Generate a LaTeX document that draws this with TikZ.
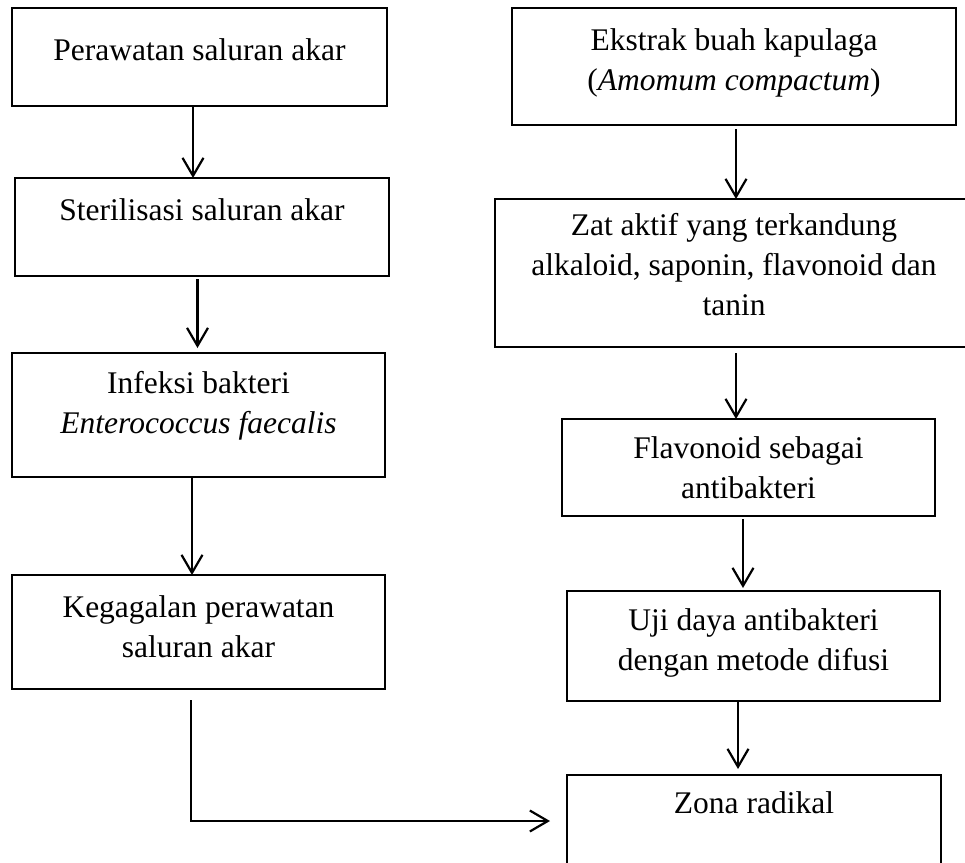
\documentclass[tikz,border=0pt]{standalone}
\usepackage{fontspec}
\setmainfont{Liberation Serif}
\usetikzlibrary{arrows.meta}

\begin{document}
\begin{tikzpicture}[x=1pt, y=-1pt,
              every node/.style = {shape=rectangle, draw, line width=2.4pt,
                outer sep=0pt, inner xsep=0pt, inner ysep=0pt, anchor=north west,
                font=\fontsize{31.5}{40}\selectfont},
              arrow/.style = {line width=2.2pt, -{Straight Barb[length=18pt,width=21pt]}}]
              \clip (0,0) rectangle (965,862);
              \node (perawatan) [minimum width=375pt, text height=52pt, text depth=46pt] at (12,8)
                {\begin{tabular}[t]{c} Perawatan saluran akar \end{tabular}};
              \node (sterilisasi) [minimum width=374pt, text height=42pt, text depth=56pt] at (15,178)
                {\begin{tabular}[t]{c} Sterilisasi saluran akar \end{tabular}};
              \node (infeksi) [minimum width=373pt, text height=40pt, text depth=84pt] at (12,353)
                {\begin{tabular}[t]{c} Infeksi bakteri \\ \textit{Enterococcus faecalis} \end{tabular}};
              \node (kegagalan) [minimum width=373pt, text height=42pt, text depth=72pt] at (12,575)
                {\begin{tabular}[t]{c} Kegagalan perawatan \\ saluran akar \end{tabular}};
              \node (ekstrak) [minimum width=444pt, text height=42pt, text depth=75pt] at (512,8)
                {\begin{tabular}[t]{c} Ekstrak buah kapulaga \\ (\textit{Amomum compactum}) \end{tabular}};
              \node (zataktif) [minimum width=478pt, text height=36pt, text depth=112pt] at (495,199)
                {\begin{tabular}[t]{c} Zat aktif yang terkandung \\ alkaloid, saponin, flavonoid dan \\ tanin \end{tabular}};
              \node (flavonoid) [minimum width=373pt, text height=39pt, text depth=58pt] at (562,419)
                {\begin{tabular}[t]{c} Flavonoid sebagai \\ antibakteri \end{tabular}};
              \node (ujidaya) [minimum width=373pt, text height=39pt, text depth=71pt] at (567,591)
                {\begin{tabular}[t]{c} Uji daya antibakteri \\ dengan metode difusi \end{tabular}};
              \node (zona) [minimum width=374pt, text height=38pt, text depth=54pt] at (567,775)
                {\begin{tabular}[t]{c} Zona radikal \end{tabular}};
              \draw[arrow] ([xshift=-6.5pt]perawatan.south) -- ([xshift=-6.5pt]perawatan.south |- sterilisasi.north);
              \draw[arrow, shorten <=3pt, shorten >=5pt] ([xshift=-4.5pt]sterilisasi.south) -- ([xshift=-4.5pt]sterilisasi.south |- infeksi.north);
              \draw[arrow] ([xshift=-6.5pt]infeksi.south) -- ([xshift=-6.5pt]infeksi.south |- kegagalan.north);
              \draw[arrow, shorten <=4pt] ([xshift=2pt]ekstrak.south) -- ([xshift=2pt]ekstrak.south |- zataktif.north);
              \draw[arrow, shorten <=6pt] ([xshift=2pt]zataktif.south) -- ([xshift=2pt]zataktif.south |- flavonoid.north);
              \draw[arrow, shorten <=3pt, shorten >=3pt] ([xshift=-5.5pt]flavonoid.south) -- ([xshift=-5.5pt]flavonoid.south |- ujidaya.north);
              \draw[arrow, shorten >=6pt] ([xshift=-15.5pt]ujidaya.south) -- ([xshift=-15.5pt]ujidaya.south |- zona.north);
              \draw[arrow, shorten <=11pt, shorten >=17pt] ([xshift=-7.5pt]kegagalan.south) |- (zona.west);
            \end{tikzpicture}
\end{document}
